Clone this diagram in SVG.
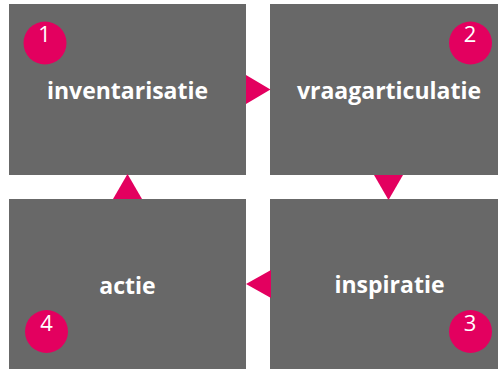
<svg xmlns="http://www.w3.org/2000/svg" width="498" height="369" viewBox="0 0 498 369">
<style>
.box{fill:#686868}
.arr{fill:#E3005F}
.dot{fill:#E3005F}
.lbl{font-family:"Open Sans","Liberation Sans",sans-serif;font-weight:bold;font-size:23px;fill:#fff;text-anchor:middle}
.num{font-family:"Open Sans","Liberation Sans",sans-serif;font-size:22px;fill:#fff;text-anchor:middle}
</style>
<rect width="498" height="369" fill="#fff"/>
<g id="node1">
<rect class="box" x="9" y="4" width="237" height="171"/>
<circle class="dot" cx="45" cy="43" r="21.5"/>
<text class="num" x="44.5" y="42">1</text>
<text class="lbl" x="127.5" y="99">inventarisatie</text>
</g>
<g id="node2">
<rect class="box" x="270" y="4" width="228" height="171"/>
<circle class="dot" cx="470.5" cy="43" r="21.5"/>
<text class="num" x="470" y="42">2</text>
<text class="lbl" x="389" y="99">vraagarticulatie</text>
</g>
<g id="node3">
<rect class="box" x="270" y="199" width="228" height="170"/>
<circle class="dot" cx="470.5" cy="331.5" r="21.5"/>
<text class="num" x="470" y="331">3</text>
<text class="lbl" x="389.5" y="293">inspiratie</text>
</g>
<g id="node4">
<rect class="box" x="9" y="199" width="237" height="170"/>
<circle class="dot" cx="46.5" cy="331.5" r="21.5"/>
<text class="num" x="46.5" y="331">4</text>
<text class="lbl" x="127.5" y="294">actie</text>
</g>
<g id="connectors">
<polygon class="arr" points="246,75 270.5,89.5 246,104"/>
<polygon class="arr" points="374,175 403,175 388.5,200"/>
<polygon class="arr" points="271,270 246,284 271,298"/>
<polygon class="arr" points="113,199 127.5,174 142,199"/>
</g>
</svg>
